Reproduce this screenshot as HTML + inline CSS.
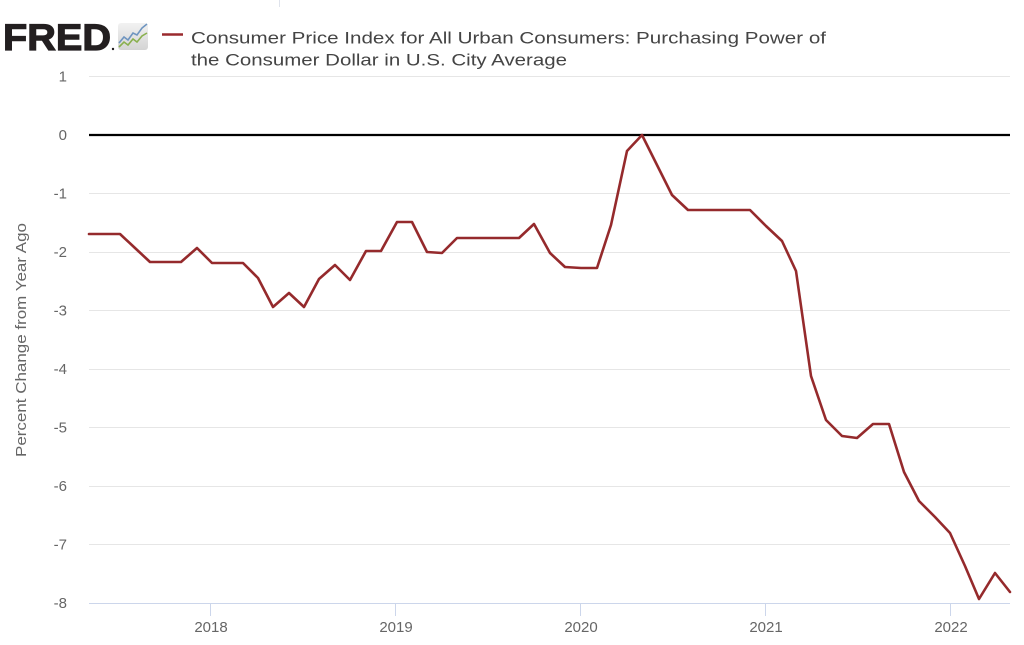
<!DOCTYPE html>
<html>
<head>
<meta charset="utf-8">
<style>
  html, body { margin:0; padding:0; background:#ffffff; }
  body { width:1024px; height:645px; overflow:hidden; }
  svg { display:block; }
</style>
</head>
<body>
<svg width="1024" height="645" viewBox="0 0 1024 645" xmlns="http://www.w3.org/2000/svg">
  <rect x="0" y="0" width="1024" height="645" fill="#ffffff"/>

  <!-- small top artifact line -->
  <line x1="279.5" y1="0" x2="279.5" y2="7" stroke="#dfe3ec" stroke-width="1"/>

  <!-- FRED logo -->
  <text x="3" y="50" font-family="'Liberation Sans', sans-serif" font-weight="bold" font-size="37.5" fill="#231f20" stroke="#231f20" stroke-width="1.2" textLength="108" lengthAdjust="spacingAndGlyphs">FRED</text>
  <circle cx="113" cy="49" r="1.2" fill="#231f20"/>
  <!-- icon -->
  <defs>
    <linearGradient id="ig" x1="0" y1="0" x2="0" y2="1">
      <stop offset="0" stop-color="#f2f2f2"/>
      <stop offset="1" stop-color="#d4d4d4"/>
    </linearGradient>
  </defs>
  <rect x="118" y="23" width="30" height="27" rx="3" fill="url(#ig)"/>
  <polyline points="119,43 124,37 128,40 133,33 137,35 142,28 147,24" fill="none" stroke="#6f95c0" stroke-width="1.6"/>
  <polyline points="119,47 124,42 128,45 133,39 137,42 142,36 147,33" fill="none" stroke="#8ab04f" stroke-width="1.6"/>

  <!-- legend -->
  <line x1="162" y1="34.5" x2="183" y2="34.5" stroke="#9a2a2e" stroke-width="2.5"/>
  <text x="191" y="43.5" font-family="'Liberation Sans', sans-serif" font-size="17" fill="#444444" textLength="635" lengthAdjust="spacingAndGlyphs">Consumer Price Index for All Urban Consumers: Purchasing Power of</text>
  <text x="191" y="65.5" font-family="'Liberation Sans', sans-serif" font-size="17" fill="#444444" textLength="376" lengthAdjust="spacingAndGlyphs">the Consumer Dollar in U.S. City Average</text>

  <!-- gridlines -->
  <g stroke="#e6e6e6" stroke-width="1">
    <line x1="89" y1="76.5" x2="1010" y2="76.5"/>
    <line x1="89" y1="193.5" x2="1010" y2="193.5"/>
    <line x1="89" y1="252.5" x2="1010" y2="252.5"/>
    <line x1="89" y1="310.5" x2="1010" y2="310.5"/>
    <line x1="89" y1="369.5" x2="1010" y2="369.5"/>
    <line x1="89" y1="427.5" x2="1010" y2="427.5"/>
    <line x1="89" y1="486.5" x2="1010" y2="486.5"/>
    <line x1="89" y1="544.5" x2="1010" y2="544.5"/>
  </g>
  <!-- x axis -->
  <line x1="89" y1="603.5" x2="1010" y2="603.5" stroke="#ccd6eb" stroke-width="1"/>
  <g stroke="#ccd6eb" stroke-width="1">
    <line x1="210.5" y1="603" x2="210.5" y2="616"/>
    <line x1="395.5" y1="603" x2="395.5" y2="616"/>
    <line x1="580.5" y1="603" x2="580.5" y2="616"/>
    <line x1="765.5" y1="603" x2="765.5" y2="616"/>
    <line x1="950.5" y1="603" x2="950.5" y2="616"/>
  </g>

  <!-- y labels -->
  <g font-family="'Liberation Sans', sans-serif" font-size="15" fill="#666666" text-anchor="end">
    <text x="67" y="81.5">1</text>
    <text x="67" y="140">0</text>
    <text x="67" y="198.5">-1</text>
    <text x="67" y="257">-2</text>
    <text x="67" y="315.5">-3</text>
    <text x="67" y="374">-4</text>
    <text x="67" y="432.5">-5</text>
    <text x="67" y="491">-6</text>
    <text x="67" y="549.5">-7</text>
    <text x="67" y="608">-8</text>
  </g>

  <!-- x labels -->
  <g font-family="'Liberation Sans', sans-serif" font-size="15" fill="#666666" text-anchor="middle">
    <text x="211" y="632">2018</text>
    <text x="396" y="632">2019</text>
    <text x="581" y="632">2020</text>
    <text x="766" y="632">2021</text>
    <text x="951" y="632">2022</text>
  </g>

  <!-- y axis title -->
  <text transform="translate(26,340) rotate(-90)" font-family="'Liberation Sans', sans-serif" font-size="15" fill="#666666" text-anchor="middle" textLength="234" lengthAdjust="spacingAndGlyphs">Percent Change from Year Ago</text>

  <!-- zero line -->
  <line x1="89" y1="135" x2="1010" y2="135" stroke="#000000" stroke-width="2.2"/>

  <!-- series -->
  <polyline fill="none" stroke="#952a2c" stroke-width="2.6" stroke-linejoin="round" stroke-linecap="round"
    points="89,234 104,234 120,234 135,248 150,262 166,262 181,262 197,248 212,263 227,263 243,263 258,278 273,307 289,293 304,307 319,279 335,265 350,280 366,251 381,251 397,222 412,222 427,252 442,253 457,238 473,238 488,238 504,238 519,238 534,224 550,253 565,267 581,268 597,268 611,225 627,151 642,135 657,165 672,195 688,210 704,210 719,210 735,210 750,210 766,226 782,241 796,271 811,376 826,420 842,436 857,438 873,424 889,424 904,472 919,501 935,517 950,533 965,566 979,599 995,573 1010,592"/>
</svg>
</body>
</html>
